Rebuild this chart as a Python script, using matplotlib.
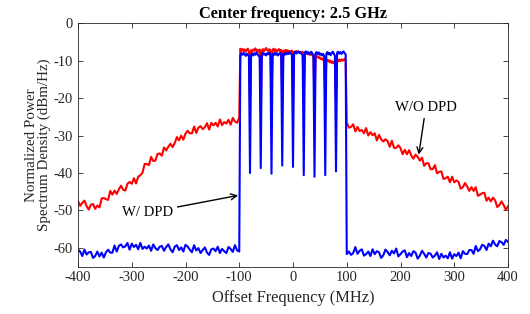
import numpy as np
import matplotlib
matplotlib.use('Agg')
import matplotlib.pyplot as plt

plt.rcParams['font.family'] = ['Liberation Serif', 'DejaVu Serif']
plt.rcParams['axes.unicode_minus'] = False

# frequency grids (MHz): out of band every 4 MHz, in band every 2 MHz
freq_lo = np.arange(-400, -99, 4)
freq_band = np.arange(-98, 99, 2)
freq_hi = np.arange(100, 401, 4)

# W/O DPD (red), dBm/Hz
red_lo = [-47.5, -48.8, -48.0, -47.4, -48.9, -49.8, -48.5, -48.3, -49.6, -48.7,
          -49.2, -46.8, -46.7, -47.0, -47.2, -44.8, -45.8, -44.7, -45.6, -44.4,
          -43.4, -44.5, -44.7, -42.9, -42.4, -42.9, -41.4, -42.8, -41.0, -40.6,
          -39.9, -37.6, -37.6, -37.9, -35.7, -36.8, -36.7, -34.9, -34.8, -35.4,
          -33.2, -34.0, -33.0, -32.2, -33.1, -32.0, -30.4, -31.3, -30.0, -31.1,
          -29.5, -28.7, -29.4, -29.4, -27.6, -29.3, -27.9, -27.5, -28.3, -27.8,
          -26.7, -28.4, -26.6, -27.3, -26.6, -27.6, -25.7, -27.2, -26.4, -26.8,
          -25.8, -27.1, -25.3, -26.2, -26.6, -25.2]
red_band = [-6.8, -7.3, -6.9, -7.4, -7.0, -7.6, -7.1, -6.8, -7.5, -20.0,
            -7.2, -7.6, -7.0, -7.3, -6.7, -7.4, -7.1, -7.7, -7.0, -22.0,
            -7.3, -6.9, -7.5, -7.0, -6.6, -7.2, -7.4, -6.9, -7.3, -21.0,
            -7.1, -6.8, -7.4, -7.0, -7.6, -7.2, -6.9, -7.5, -7.1, -20.0,
            -7.3, -7.7, -7.1, -7.5, -7.2, -7.8, -7.4, -7.6, -7.3, -21.0,
            -7.6, -7.9, -7.4, -7.8, -7.5, -7.9, -7.7, -8.1, -7.6, -20.0,
            -7.9, -8.2, -7.8, -8.3, -8.0, -8.4, -8.1, -8.6, -8.4, -21.0,
            -8.6, -9.0, -8.8, -9.3, -9.1, -9.6, -9.4, -9.9, -9.6, -20.0,
            -9.7, -10.1, -9.8, -10.4, -10.0, -10.6, -10.2, -10.7, -10.1, -21.0,
            -9.8, -10.2, -9.7, -10.1, -9.6, -10.0, -9.8, -9.5, -9.9]
red_hi = [-26.5, -27.9, -27.7, -27.0, -28.9, -27.7, -28.8, -28.5, -29.4, -28.0,
          -30.0, -29.1, -29.9, -29.4, -31.3, -29.8, -31.0, -31.6, -31.0, -31.5,
          -33.0, -31.4, -33.3, -33.3, -32.6, -33.4, -35.0, -33.8, -35.0, -33.9,
          -35.3, -36.2, -35.1, -35.7, -36.7, -35.9, -38.1, -37.4, -37.4, -39.0,
          -39.0, -37.9, -40.1, -39.7, -39.6, -41.6, -41.4, -41.0, -42.5, -41.0,
          -42.5, -42.0, -42.4, -44.2, -43.8, -42.7, -43.6, -44.8, -43.8, -44.8,
          -43.8, -46.1, -45.8, -45.4, -45.3, -47.4, -46.6, -47.6, -46.6, -47.3,
          -49.1, -48.6, -47.6, -48.6, -49.9, -48.9]

# W/ DPD (blue)
blue_lo = [-60.5, -61.0, -62.2, -60.5, -61.8, -61.2, -61.1, -62.7, -62.2, -61.0,
           -62.3, -61.3, -62.6, -61.2, -60.5, -61.3, -61.3, -59.4, -61.0, -59.5,
           -59.1, -59.9, -59.6, -58.7, -60.5, -58.9, -59.8, -59.2, -60.4, -58.7,
           -60.3, -59.7, -60.2, -59.4, -60.8, -59.1, -60.1, -60.6, -59.7, -59.5,
           -60.8, -59.8, -59.1, -60.4, -61.2, -59.7, -59.3, -60.6, -59.9, -61.0,
           -59.2, -59.7, -60.5, -61.2, -59.3, -60.7, -60.1, -61.4, -60.6, -59.9,
           -61.3, -61.9, -60.4, -60.2, -60.9, -59.7, -61.4, -60.3, -60.9, -61.4,
           -59.8, -60.3, -61.1, -59.3, -60.7, -61.0]
blue_band = [-8.6, -8.0, -8.4, -7.9, -8.3, -8.7, -8.1, -8.4, -8.9, -40.0,
             -8.5, -8.1, -8.6, -8.0, -8.4, -7.8, -8.3, -8.7, -8.8, -38.7,
             -8.3, -7.9, -8.4, -8.1, -8.6, -8.0, -8.3, -7.8, -8.6, -40.2,
             -8.2, -8.5, -7.9, -8.4, -8.0, -8.6, -8.2, -7.9, -8.5, -38.0,
             -8.1, -8.4, -7.9, -8.3, -7.8, -8.2, -7.7, -8.1, -8.4, -38.4,
             -8.0, -7.6, -8.1, -7.8, -7.5, -7.9, -7.7, -8.2, -8.5, -40.6,
             -7.8, -7.5, -8.0, -7.7, -8.3, -7.9, -7.6, -8.1, -8.6, -41.0,
             -8.0, -7.7, -8.2, -7.8, -8.4, -8.1, -8.6, -8.2, -8.8, -40.6,
             -8.1, -7.7, -8.3, -7.9, -8.5, -8.0, -7.6, -8.1, -8.7, -39.6,
             -7.9, -7.6, -8.1, -7.7, -8.2, -7.8, -7.5, -8.0, -8.3]
blue_hi = [-61.7, -61.0, -61.9, -61.4, -59.8, -61.6, -60.8, -60.4, -62.1, -61.7,
           -61.0, -62.2, -60.4, -61.7, -60.9, -61.2, -62.7, -62.0, -60.5, -61.1,
           -62.0, -60.8, -61.5, -60.2, -62.3, -61.7, -61.0, -60.7, -62.5, -61.4,
           -62.2, -60.9, -61.3, -62.9, -62.1, -60.8, -61.6, -62.6, -61.4, -61.6,
           -62.6, -62.1, -61.2, -63.0, -61.6, -62.6, -62.1, -62.8, -61.2, -62.9,
           -61.7, -62.2, -61.3, -62.8, -60.9, -61.6, -61.7, -60.6, -60.6, -61.6,
           -59.5, -60.9, -60.4, -59.2, -59.5, -60.6, -58.9, -59.6, -58.1, -59.1,
           -59.6, -58.2, -58.5, -59.2, -57.9, -58.4]

xticks = [-400, -300, -200, -100, 0, 100, 200, 300, 400]
yticks = [-60, -50, -40, -30, -20, -10, 0]

freq = np.concatenate([freq_lo, freq_band, freq_hi])
red = np.concatenate([red_lo, red_band, red_hi])
blue = np.concatenate([blue_lo, blue_band, blue_hi])

fig = plt.figure(figsize=(5.3, 3.14), dpi=100)
ax = fig.add_axes([78 / 530, 1 - 266.5 / 314, 430 / 530, 243.2 / 314])

ax.plot(freq, red, color='#ff0000', lw=1.5)
ax.plot(freq, blue, color='#0000ff', lw=1.5)

ax.set_xlim(-400, 400)
ax.set_ylim(-65, 0)
ax.set_xticks(xticks)
ax.set_yticks(yticks)
ax.tick_params(direction='in', top=True, right=True, length=3.5, width=0.6,
               labelsize=10.5, colors='#262626')
for s in ax.spines.values():
    s.set_linewidth(0.6)
    s.set_color('#262626')

ax.set_title('Center frequency: 2.5 GHz', fontsize=11.8, fontweight='bold', pad=4)
ax.set_xlabel('Offset Frequency (MHz)', fontsize=11.8, color='#262626', labelpad=4)
ax.set_ylabel('Normalized Power\nSpectrum Density (dBm/Hz)', fontsize=10.8,
              color='#262626', linespacing=1.0, labelpad=2)

arrow = dict(arrowstyle='->', color='black', lw=1.0, shrinkA=1, shrinkB=0)
ax.annotate('W/O DPD', xy=(234, -35.1), xytext=(247, -22.6), ha='center', va='center',
            fontsize=10.6, arrowprops=arrow)
ax.annotate('W/ DPD', xy=(-102, -46.0), xytext=(-270, -50.6), ha='center', va='center',
            fontsize=10.6, arrowprops=arrow)

fig.savefig('out.png', dpi=100)
